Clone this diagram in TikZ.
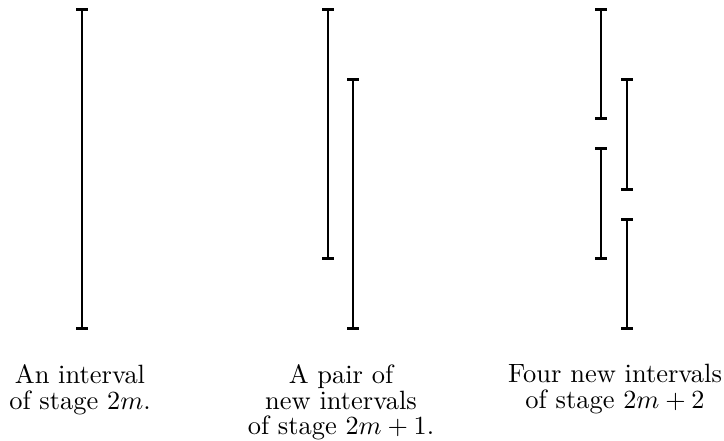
\documentclass[tikz,border=0pt]{standalone}
\usepackage{amsmath}
\usepackage{tikz}
\usetikzlibrary{arrows.meta}

\begin{document}
\begin{tikzpicture}[x=0.3817pt, y=-0.3817pt]
        \tikzstyle{interval} = [draw, line width=1.1pt, {Bar[width=4.4pt]}-{Bar[width=4.4pt]}]
        \tikzstyle{caption} = [anchor=north, inner sep=0pt, align=center, font=\fontsize{10.1pt}{9.8pt}\selectfont]
        \useasboundingbox (0,0) rectangle (724,441);

        % stage 2m
        \coordinate (s0top) at (82,8);
        \coordinate (s0bot) at (82,330);
        % stage 2m+1
        \coordinate (s1atop) at (328,8);
        \coordinate (s1abot) at (328,260);
        \coordinate (s1btop) at (353,78);
        \coordinate (s1bbot) at (353,330);
        % stage 2m+2
        \coordinate (s2atop) at (601,8);
        \coordinate (s2abot) at (601,120);
        \coordinate (s2btop) at (601,147);
        \coordinate (s2bbot) at (601,260);
        \coordinate (s2ctop) at (627,78);
        \coordinate (s2cbot) at (627,191);
        \coordinate (s2dtop) at (627,218);
        \coordinate (s2dbot) at (627,330);

        \path [interval] (s0top) -- (s0bot);
        \path [interval] (s1atop) -- (s1abot);
        \path [interval] (s1btop) -- (s1bbot);
        \path [interval] (s2atop) -- (s2abot);
        \path [interval] (s2btop) -- (s2bbot);
        \path [interval] (s2ctop) -- (s2cbot);
        \path [interval] (s2dtop) -- (s2dbot);

        \node [caption] (cap0) at (80,364) {An interval\\of stage $2m$.};
        \node [caption] (cap1) at (341,364) {A pair of\\new intervals\\of stage $2m+1$.};
        \node [caption] (cap2) at (615,364) {Four new intervals\\of stage $2m+2$};
    \end{tikzpicture}
\end{document}
